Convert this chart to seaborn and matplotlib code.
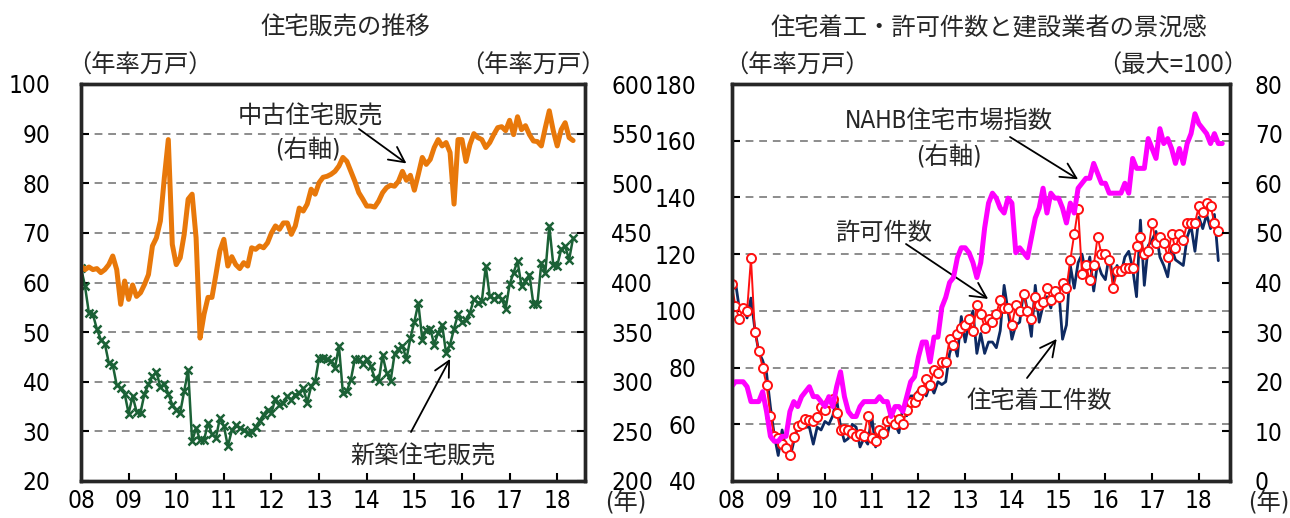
import numpy as np
import pandas as pd
import matplotlib
matplotlib.use("Agg")
import matplotlib.pyplot as plt
import seaborn as sns
from matplotlib import font_manager as fm
from matplotlib.font_manager import FontProperties

# ---------------- data (monthly, Jan 2008 onward) ----------------
year_labels = ["08", "09", "10", "11", "12", "13", "14", "15", "16", "17", "18"]

# New home sales, annualised, 10k units (left axis)
new_home_sales = [
    63.0, 59.3, 53.8, 53.6, 50.6, 48.5, 47.7, 43.8, 43.4, 39.3, 38.7, 37.6,
    33.6, 37.1, 34.0, 33.8, 37.6, 39.5, 41.1, 42.0, 38.9, 39.6, 37.6, 35.4,
    34.4, 33.8, 38.1, 42.4, 28.0, 30.7, 28.2, 28.2, 31.7, 29.4, 28.7, 32.7,
    31.1, 27.0, 30.2, 31.2, 30.7, 30.2, 29.6, 29.9, 30.9, 32.1, 33.4, 34.4,
    33.8, 36.6, 35.4, 35.8, 37.1, 36.4, 37.4, 37.8, 38.7, 35.8, 39.1, 40.1,
    44.8, 44.7, 44.5, 44.2, 42.8, 47.2, 37.7, 38.1, 40.4, 44.6, 44.5, 43.5,
    44.6, 43.1, 40.8, 40.1, 45.3, 41.8, 40.1, 45.5, 46.6, 47.3, 44.5, 48.8,
    52.1, 55.8, 48.5, 50.5, 50.7, 47.5, 49.9, 51.5, 45.7, 47.5, 50.7, 53.6,
    52.0, 52.5, 53.9, 56.6, 55.9, 56.2, 63.3, 57.2, 56.6, 57.2, 56.7, 54.7,
    59.6, 62.0, 64.3, 59.3, 60.3, 61.6, 55.6, 55.6, 64.0, 62.0, 71.4, 63.6,
    63.4, 66.7, 67.3, 64.6, 69.0,
]

# Existing home sales, annualised, 10k units (right axis)
existing_home_sales = [
    416.6, 413.0, 415.6, 413.0, 414.0, 410.0, 413.0, 418.0, 426.7, 413.0, 378.0, 401.5,
    383.0, 397.5, 386.0, 389.7, 398.0, 408.0, 436.8, 445.0, 462.0, 505.6, 544.0, 438.5,
    418.0, 425.0, 448.5, 484.0, 489.0, 445.0, 344.0, 368.0, 385.0, 385.0, 408.0, 432.0,
    443.5, 416.6, 426.0, 418.0, 414.0, 420.0, 416.6, 435.0, 433.4, 436.8, 435.0, 440.0,
    450.0, 457.0, 453.6, 460.0, 460.0, 448.5, 457.0, 475.0, 472.0, 479.0, 494.0, 489.0,
    500.6, 506.0, 507.0, 509.0, 512.0, 517.4, 526.0, 522.0, 512.0, 502.0, 490.5, 484.0,
    477.0, 477.0, 476.0, 482.0, 490.5, 495.6, 498.0, 497.0, 502.0, 512.0, 503.0, 508.0,
    493.0, 509.0, 526.0, 519.0, 524.0, 536.0, 544.0, 537.6, 541.0, 531.0, 479.0, 544.0,
    544.0, 522.0, 539.0, 550.0, 546.0, 544.0, 536.0, 541.0, 549.0, 556.0, 557.0, 553.0,
    563.4, 549.0, 567.0, 554.0, 558.0, 549.0, 542.6, 542.0, 537.6, 556.0, 573.0, 553.0,
    537.6, 554.0, 561.0, 546.0, 543.0,
]

# Housing starts, annualised, 10k units (left axis)
housing_starts = [
    108.5, 110.3, 100.9, 101.4, 97.5, 104.5, 93.5, 85.5, 82.5, 78.0, 66.0, 56.0,
    49.0, 58.0, 51.0, 48.0, 54.0, 59.0, 59.0, 59.0, 59.0, 53.0, 59.0, 58.0,
    61.0, 60.0, 63.0, 69.0, 59.0, 54.0, 55.0, 60.0, 59.0, 52.0, 55.0, 53.0,
    63.0, 52.0, 59.0, 55.0, 56.0, 63.0, 60.0, 57.0, 66.0, 63.0, 70.0, 70.0,
    72.0, 72.0, 70.0, 74.0, 71.0, 75.0, 74.0, 75.0, 85.0, 89.0, 84.0, 98.0,
    89.0, 96.0, 100.0, 85.0, 92.0, 85.0, 89.0, 89.0, 87.0, 93.0, 109.0, 100.0,
    90.0, 95.0, 96.0, 107.0, 100.0, 91.0, 109.0, 96.0, 102.0, 105.0, 101.0, 108.0,
    108.0, 90.0, 95.0, 116.0, 108.0, 117.0, 120.0, 113.0, 119.0, 107.0, 117.0, 113.0,
    111.0, 120.0, 110.0, 116.0, 113.0, 119.0, 121.0, 115.0, 105.0, 132.0, 109.0, 123.0,
    125.0, 128.0, 119.0, 116.0, 112.0, 122.0, 118.0, 117.0, 116.0, 126.0, 130.0, 121.0,
    133.0, 129.0, 134.0, 129.0, 134.0, 117.7,
]

# Building permits, annualised, 10k units (left axis)
building_permits = [
    109.5, 101.8, 97.0, 101.0, 100.0, 118.5, 92.5, 86.0, 80.0, 74.0, 63.0, 56.0,
    55.0, 53.0, 51.5, 49.0, 55.5, 59.5, 60.0, 62.0, 61.5, 61.0, 62.5, 66.0,
    65.0, 68.0, 69.0, 64.0, 58.0, 58.5, 58.0, 57.0, 56.0, 56.5, 56.0, 63.0,
    55.0, 54.0, 58.0, 57.0, 61.0, 62.0, 60.0, 62.0, 60.0, 65.0, 68.0, 68.0,
    70.0, 72.0, 76.0, 74.0, 79.0, 78.0, 82.0, 82.0, 90.0, 88.0, 92.0, 94.0,
    95.0, 97.0, 93.0, 102.0, 99.0, 94.0, 97.0, 96.0, 99.0, 104.0, 101.0, 101.0,
    95.0, 102.0, 100.0, 106.0, 100.0, 97.0, 105.0, 102.0, 103.0, 108.0, 104.0, 107.0,
    105.0, 110.0, 108.0, 118.0, 127.0, 136.0, 113.0, 116.0, 111.0, 116.0, 126.0, 120.0,
    120.0, 118.0, 108.0, 114.0, 114.0, 115.0, 115.0, 115.0, 123.0, 126.0, 120.0, 121.0,
    131.0, 124.0, 126.0, 124.0, 119.0, 127.0, 122.0, 127.0, 125.0, 131.0, 131.0, 131.0,
    137.0, 135.0, 138.0, 137.0, 131.0, 128.0,
]

# NAHB housing market index (right axis, max = 100)
nahb_index = [
    19, 20, 20, 20, 19, 16, 16, 16, 18, 14, 9, 8,
    8, 9, 9, 14, 16, 15, 17, 18, 19, 17, 17, 16,
    15, 17, 15, 19, 22, 17, 14, 13, 13, 15, 16, 16,
    16, 16, 17, 16, 16, 13, 15, 15, 14, 17, 20, 21,
    25, 28, 28, 24, 29, 29, 35, 37, 40, 41, 45, 47,
    47, 46, 44, 41, 44, 51, 56, 58, 57, 55, 54, 57,
    56, 46, 47, 46, 45, 49, 53, 55, 59, 54, 58, 57,
    57, 55, 52, 56, 54, 59, 60, 61, 61, 64, 62, 60,
    60, 58, 58, 58, 58, 60, 58, 65, 63, 63, 63, 69,
    67, 65, 71, 68, 69, 67, 64, 67, 64, 68, 70, 74,
    72, 71, 70, 68, 70, 68, 68,
]

# ---------------- styling ----------------
ORANGE = "#E8780A"
GREEN = "#1B6136"
NAVY = "#0E2A62"
RED = "#FF1010"
MAGENTA = "#FF00FF"
GRID = "#8C8C8C"

sns.set_theme(style="white")
JP = "Noto Sans CJK JP"


def pick_narrow_font():
    """Return the font entry of an installed condensed sans face, or None."""
    preferred = ["Liberation Sans Narrow", "DejaVu Sans", "Noto Sans", "Open Sans",
                 "Roboto Condensed", "Roboto", "Lato", "Inter"]
    found = {}
    for f in fm.fontManager.ttflist:
        if f.style != "normal":
            continue
        if f.weight not in (400, "normal", "regular", "book", "Regular", "Book"):
            continue
        narrow = ("Narrow" in f.name or "Condensed" in f.name
                  or f.stretch in ("condensed", "semi-condensed", "extra-condensed"))
        if narrow and "Bold" not in f.fname and "Italic" not in f.fname:
            found.setdefault(f.name, f)
    for name in preferred:
        if name in found:
            return found[name]
    if found:
        return next(iter(found.values()))
    return None


narrow = pick_narrow_font()
if narrow is not None:
    NUM_FAMILY, NUM_STRETCH = narrow.name, narrow.stretch
    NUM_SIZE = 20 if "Narrow" in narrow.name else 17.5
    num_fp = FontProperties(fname=narrow.fname, size=NUM_SIZE)
else:
    NUM_FAMILY, NUM_STRETCH, NUM_SIZE = "Liberation Sans", "normal", 16.5
    num_fp = FontProperties(family="Liberation Sans", size=NUM_SIZE)

plt.rcParams["font.family"] = [JP, "DejaVu Sans"]
plt.rcParams["axes.unicode_minus"] = False

W, H = 1290, 518
fig = plt.figure(figsize=(W / 100, H / 100), dpi=100)
fig.patch.set_facecolor("white")


def fx(x):
    return x / W


def fy(y):
    return 1 - y / H


ax1 = fig.add_axes([fx(81), 37 / H, 504 / W, 397 / H])
ax3 = fig.add_axes([fx(731.5), 37 / H, 498.5 / W, 397 / H])
ax2 = ax1.twinx()
ax4 = ax3.twinx()

sales = pd.DataFrame({
    "month": np.arange(len(new_home_sales)),
    "new": new_home_sales,
    "existing": existing_home_sales,
})
construction = pd.DataFrame({
    "month": np.arange(len(housing_starts)),
    "starts": housing_starts,
    "permits": building_permits,
})
sentiment = pd.DataFrame({"month": np.arange(len(nahb_index)), "nahb": nahb_index})

# left panel: home sales
sns.lineplot(data=sales, x="month", y="new", ax=ax1, color=GREEN, lw=1.8,
             marker="x", markersize=5.5, markeredgewidth=1.8, markeredgecolor=GREEN)
sns.lineplot(data=sales, x="month", y="existing", ax=ax2, color=ORANGE, lw=3.6,
             solid_joinstyle="round", solid_capstyle="round")

# right panel: starts, permits, builder sentiment
sns.lineplot(data=construction, x="month", y="starts", ax=ax3, color=NAVY, lw=2.0)
sns.lineplot(data=construction, x="month", y="permits", ax=ax3, color=RED, lw=1.4,
             marker="o", markersize=6.5, markerfacecolor="white",
             markeredgecolor=RED, markeredgewidth=1.4)
sns.lineplot(data=sentiment, x="month", y="nahb", ax=ax4, color=MAGENTA, lw=3.6,
             solid_joinstyle="round", solid_capstyle="round")

year_ticks = [12 * i for i in range(len(year_labels))]


def frame(ax, xmax):
    ax.set_xlim(0, xmax)
    ax.set_xticks(year_ticks)
    ax.set_xticklabels(year_labels, fontproperties=num_fp)
    ax.set_xlabel("")
    ax.set_ylabel("")
    for s in ax.spines.values():
        s.set_visible(True)
        s.set_color("black")
        s.set_linewidth(2.4)
    ax.tick_params(axis="x", direction="in", length=6, width=1.5, pad=6,
                   colors="black", bottom=True, top=False)


frame(ax1, 127)
frame(ax3, 128)


def yscale(ax, lo, hi, step, side, pad):
    vals = list(range(lo, hi + 1, step))
    ax.set_ylim(lo, hi)
    ax.set_yticks(vals)
    ax.set_yticklabels([str(v) for v in vals], fontproperties=num_fp)
    ax.set_ylabel("")
    ax.tick_params(axis="y", direction="in", length=6, width=1.5, pad=pad,
                   colors="black", left=(side == "left"), right=(side == "right"))


yscale(ax1, 20, 100, 10, "left", 22)
yscale(ax2, 200, 600, 50, "right", 19)
yscale(ax3, 40, 180, 20, "left", 25)
yscale(ax4, 0, 80, 10, "right", 18)

for ax in (ax1, ax3):
    ax.yaxis.grid(True, linestyle=(0, (4, 3)), color=GRID, linewidth=1.4)
    ax.xaxis.grid(False)
for ax in (ax2, ax4):
    ax.grid(False)
    for s in ax.spines.values():
        s.set_linewidth(2.4)

# ---------------- text ----------------
TXT = 17.5
mixed = dict(family=[NUM_FAMILY, JP], stretch=NUM_STRETCH)

fig.text(fx(345), fy(28), "住宅販売の推移", ha="center", va="center", fontsize=TXT)
fig.text(fx(989), fy(28), "住宅着工・許可件数と建設業者の景況感", ha="center", va="center", fontsize=TXT)
fig.text(fx(140), fy(66), "（年率万戸）", ha="center", va="center", fontsize=17.5)
fig.text(fx(533), fy(66), "（年率万戸）", ha="center", va="center", fontsize=17.5)
fig.text(fx(797), fy(66), "（年率万戸）", ha="center", va="center", fontsize=17.5)
fig.text(fx(1173), fy(66), "（最大=100）", ha="center", va="center", fontsize=17.5)
fig.text(fx(626), fy(503), "(年)", ha="center", va="center", fontsize=NUM_SIZE, **mixed)
fig.text(fx(1269), fy(503), "(年)", ha="center", va="center", fontsize=NUM_SIZE, **mixed)

fig.text(fx(310), fy(117), "中古住宅販売", ha="center", va="center", fontsize=TXT)
fig.text(fx(308), fy(150), "(右軸)", ha="center", va="center", fontsize=TXT, **mixed)
fig.text(fx(423), fy(457), "新築住宅販売", ha="center", va="center", fontsize=TXT)
fig.text(fx(949), fy(122), "NAHB住宅市場指数", ha="center", va="center", fontsize=TXT, **mixed)
fig.text(fx(949), fy(156), "(右軸)", ha="center", va="center", fontsize=TXT, **mixed)
fig.text(fx(884), fy(233), "許可件数", ha="center", va="center", fontsize=TXT)
fig.text(fx(1039), fy(401), "住宅着工件数", ha="center", va="center", fontsize=TXT)

arrow = dict(arrowstyle="->,head_length=0.55,head_width=0.28", color="black",
             lw=1.3, shrinkA=0, shrinkB=0, mutation_scale=20)


def pointer(ax, tip, start_px):
    ax.annotate("", xy=tip, xycoords="data",
                xytext=(start_px[0], H - start_px[1]), textcoords="figure pixels",
                arrowprops=arrow)


pointer(ax2, (82, 520), (359, 129))
pointer(ax1, (93, 44.6), (411, 432))
pointer(ax4, (89, 60.8), (1010, 137))
pointer(ax3, (65.9, 104.2), (906, 244))
pointer(ax3, (83.5, 90.1), (1027, 378))

fig.savefig("out.png", dpi=100, facecolor="white")
